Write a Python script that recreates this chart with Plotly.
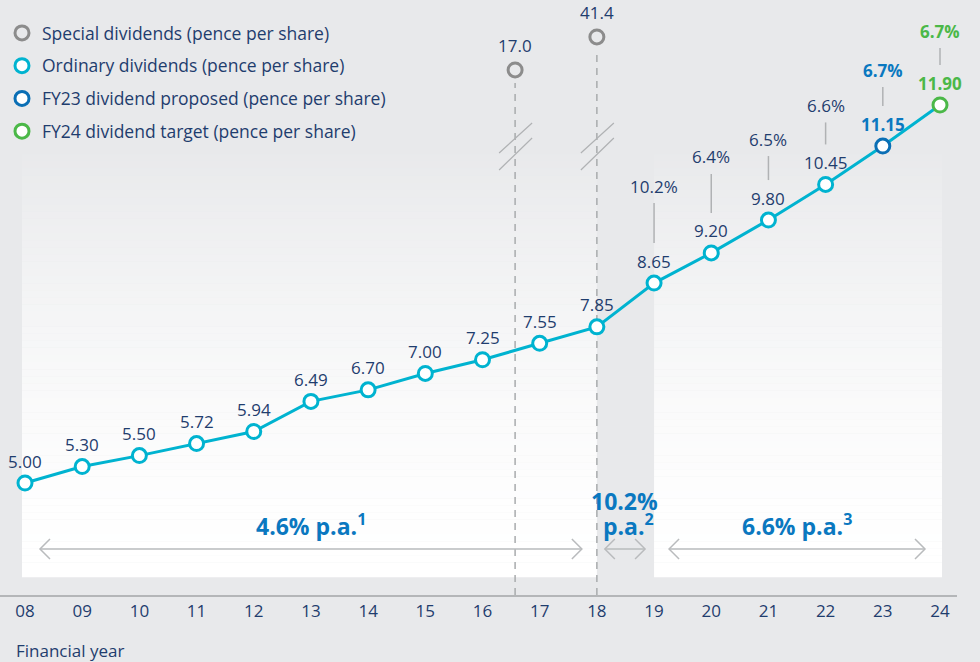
import plotly.graph_objects as go

# --- data -------------------------------------------------------------
years = list(range(8, 25))
year_labels = [f"{y:02d}" for y in years]
ordinary = [5.00, 5.30, 5.50, 5.72, 5.94, 6.49, 6.70, 7.00, 7.25,
            7.55, 7.85, 8.65, 9.20, 9.80, 10.45, 11.15, 11.90]
growth_years = [19, 20, 21, 22, 23, 24]
growth_pct = ["10.2%", "6.4%", "6.5%", "6.6%", "6.7%", "6.7%"]
special_x = [16.57, 18]
special_values = [17.0, 41.4]
period_start = [8, 18, 19]
period_end = [18, 19, 24]
period_rate = ["4.6%", "10.2%", "6.6%"]
period_note = ["1", "2", "3"]

# --- style ------------------------------------------------------------
FONT = "Open Sans"
FS = 17
NAVY = "#1f3d6e"
CYAN = "#00b3d0"
BLUE = "#0a78c0"
GREEN = "#4bb848"
GREY = "#8c8c8c"
RULE = "#b4b6b8"
BG = (232, 233, 235)
BG_HEX = "#e8e9eb"

W, H = 980, 662
PLOT_W, PLOT_H = 957, 595
X_RANGE = [7.5628, 24.2973]
Y_RANGE = [2.9556, 13.8167]
PX_X = PLOT_W / (X_RANGE[1] - X_RANGE[0])
PX_Y = PLOT_H / (Y_RANGE[1] - Y_RANGE[0])


def y_at(py):
    return Y_RANGE[1] - py / PX_Y


def special_plot_y(v):
    # broken axis: specials squeezed into the top band
    return 12.54 + (v - 17.0) * 0.0247


highlight = {23: (BLUE, True), 24: (GREEN, True)}
pct_offset = {19: 97, 20: 96, 21: 81, 22: 79, 23: 76, 24: 74}

fig = go.Figure()

# connecting line
fig.add_trace(go.Scatter(x=years, y=ordinary, mode="lines",
                         line=dict(color=CYAN, width=3), showlegend=False,
                         hoverinfo="skip"))

sp_y = [special_plot_y(v) for v in special_values]
marker_common = dict(symbol="circle", size=14)
fig.add_trace(go.Scatter(
    x=special_x, y=sp_y, mode="markers", name="Special dividends (pence per share)",
    marker=dict(**marker_common, color="rgba(0,0,0,0)", line=dict(color=GREY, width=3)),
    legendgroup="a"))
fig.add_trace(go.Scatter(
    x=years[:-2], y=ordinary[:-2], mode="markers", name="Ordinary dividends (pence per share)",
    marker=dict(**marker_common, color="white", line=dict(color=CYAN, width=3)),
    legendgroup="b"))
fig.add_trace(go.Scatter(
    x=years[-2:-1], y=ordinary[-2:-1], mode="markers", name="FY23 dividend proposed (pence per share)",
    marker=dict(**marker_common, color="white", line=dict(color="#0b6fb5", width=3)),
    legendgroup="c"))
fig.add_trace(go.Scatter(
    x=years[-1:], y=ordinary[-1:], mode="markers", name="FY24 dividend target (pence per share)",
    marker=dict(**marker_common, color="white", line=dict(color=GREEN, width=3)),
    legendgroup="d"))

shapes = []
annotations = []

# gradient panels
n_strips = 60
top_px, bot_px = 147, 577
panels = [(8 - 3 / PX_X, 18), (19, 24 + 2 / PX_X)]
for i in range(n_strips):
    t = (i + 0.5) / n_strips
    t = 1 - (1 - t) ** 1.6
    c = [int(round(b + (255 - b) * t)) for b in BG]
    y0 = y_at(top_px + (bot_px - top_px) * i / n_strips)
    y1 = y_at(top_px + (bot_px - top_px) * (i + 1) / n_strips) - 0.003
    for x0, x1 in panels:
        shapes.append(dict(type="rect", xref="x", yref="y", x0=x0, x1=x1, y0=y1, y1=y0,
                           fillcolor=f"rgb({c[0]},{c[1]},{c[2]})", line=dict(width=0),
                           layer="below"))

# dashed drop lines and axis-break marks for special dividends
for sx, sy, sv in zip(special_x, sp_y, special_values):
    shapes.append(dict(type="line", xref="x", yref="y", x0=sx, x1=sx,
                       y0=Y_RANGE[0], y1=sy - 13 / PX_Y,
                       line=dict(color="#a9abad", width=1.5, dash="7px,6px"), layer="below"))
    shapes.append(dict(type="path", xref="x", yref="y", xsizemode="pixel", ysizemode="pixel",
                       xanchor=sx, yanchor=y_at(146),
                       path="M -16,-7 L 17,23 M -16,-24 L 17,8",
                       line=dict(color="#b0b2b4", width=1.2)))
    annotations.append(dict(x=sx, y=sy, text=f"{sv:.1f}", showarrow=False, yshift=24,
                            font=dict(family=FONT, size=FS, color=NAVY)))

# value labels
for yr, v in zip(years, ordinary):
    col, bold = highlight.get(yr, (NAVY, False))
    txt = f"{v:.2f}"
    annotations.append(dict(x=yr, y=v, text=f"<b>{txt}</b>" if bold else txt,
                            showarrow=False, yshift=22,
                            font=dict(family=FONT, size=FS, color=col)))

# growth percentages with stems
for yr, pct in zip(growth_years, growth_pct):
    v = ordinary[years.index(yr)]
    col, bold = highlight.get(yr, (NAVY, False))
    off = pct_offset[yr]
    shapes.append(dict(type="line", xref="x", yref="y", ysizemode="pixel", yanchor=v,
                       x0=yr, x1=yr, y0=40, y1=off - 17,
                       line=dict(color="#b0b2b4", width=1.5)))
    annotations.append(dict(x=yr, y=v, text=f"<b>{pct}</b>" if bold else pct,
                            showarrow=False, yshift=off,
                            font=dict(family=FONT, size=FS, color=col)))

# compound growth periods
arrow_y = y_at(549)
big = dict(family=FONT, size=23, color=BLUE)
for a, b, rate, note in zip(period_start, period_end, period_rate, period_note):
    inset_l = 8 if b - a == 1 else 15
    inset_r = 9 if b - a == 1 else 15
    xl = a + inset_l / PX_X
    xr = b - inset_r / PX_X
    arrow_line = dict(color="#b9bbbd", width=1.5)
    shapes.append(dict(type="line", xref="x", yref="y", x0=xl, x1=xr, y0=arrow_y, y1=arrow_y,
                       line=arrow_line))
    shapes.append(dict(type="path", xref="x", yref="y", xsizemode="pixel", ysizemode="pixel",
                       xanchor=xl, yanchor=arrow_y, path="M 10,10 L 0,0 L 10,-10", line=arrow_line))
    shapes.append(dict(type="path", xref="x", yref="y", xsizemode="pixel", ysizemode="pixel",
                       xanchor=xr, yanchor=arrow_y, path="M -10,10 L 0,0 L -10,-10", line=arrow_line))
    xm = (xl + xr) / 2
    if b - a == 1:
        annotations.append(dict(x=xm, y=arrow_y, text=f"<b>{rate}</b>", showarrow=False,
                                yshift=48, font=big))
        annotations.append(dict(x=xm, y=arrow_y, text=f"<b>p.a.<sup>{note}</sup></b>",
                                showarrow=False, yshift=24, xshift=4, font=big))
    else:
        annotations.append(dict(x=xm, y=arrow_y, text=f"<b>{rate} p.a.<sup>{note}</sup></b>",
                                showarrow=False, yshift=24, font=big))

annotations.append(dict(xref="paper", yref="paper", x=14 / PLOT_W, y=-(650 - 595) / PLOT_H,
                        xanchor="left", yanchor="middle", text="Financial year", showarrow=False,
                        font=dict(family=FONT, size=FS, color=NAVY)))

fig.update_layout(
    width=W, height=H,
    margin=dict(l=0, r=W - PLOT_W, t=0, b=H - PLOT_H),
    paper_bgcolor=BG_HEX, plot_bgcolor=BG_HEX,
    font=dict(family=FONT, size=FS, color=NAVY),
    shapes=shapes, annotations=annotations,
    showlegend=True,
    legend=dict(x=2 / PLOT_W, y=1 - 15 / PLOT_H, xanchor="left", yanchor="top",
                bgcolor="rgba(0,0,0,0)", font=dict(family=FONT, size=17.5, color=NAVY),
                tracegroupgap=7, traceorder="grouped", itemclick=False),
    xaxis=dict(range=X_RANGE, tickmode="array", tickvals=years, ticktext=year_labels,
               showgrid=False, zeroline=False, showline=True, linecolor=RULE, linewidth=1.5,
               ticks="", tickfont=dict(family=FONT, size=FS, color=NAVY), fixedrange=True),
    yaxis=dict(range=Y_RANGE, visible=False, showgrid=False, zeroline=False, fixedrange=True),
)
fig.update_traces(cliponaxis=False)

fig.write_html("out.html", config={"displayModeBar": False},
               post_script="document.body.style.margin='0';")
